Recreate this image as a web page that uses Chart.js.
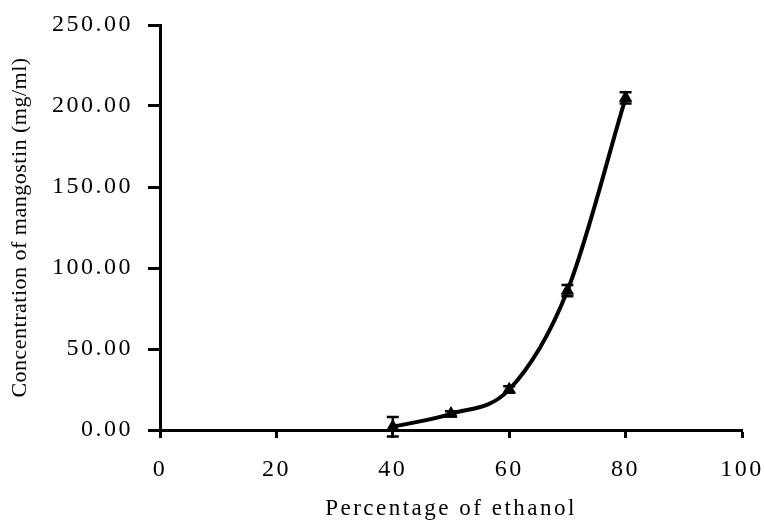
<!DOCTYPE html>
<html>
<head>
<meta charset="utf-8">
<script src="https://cdn.jsdelivr.net/npm/chart.js@4/dist/chart.umd.min.js"></script>
<style>
  body { margin: 0; background: #fff; }
  canvas { display: block; }
</style>
</head>
<body>
<canvas id="ethanol_chart" width="764" height="524"></canvas>
<script>
// ethanol percentage vs mangostin concentration (mean +/- sd)
var ethanol = [40, 50, 60, 70, 80];
var concentration = [2, 10, 25, 86, 205];
var sd = [6, 1.5, 2, 3.5, 3.5];

var xTicks = [0, 20, 40, 60, 80, 100];
var yTicks = [0, 50, 100, 150, 200, 250];

var INK = '#000';
var FONT = 'Liberation Serif, Times New Roman, serif';

var points = ethanol.map(function (x, i) {
    return { x: x, y: concentration[i] };
});

// vertical error bars with caps, placed through the scales
var errorBars = {
    id: 'errorBars',
    afterDatasetsDraw: function (chart) {
        var ctx = chart.ctx;
        var xs = chart.scales.x, ys = chart.scales.y;
        ctx.save();
        ctx.strokeStyle = INK;
        ctx.lineWidth = 2.5;
        for (var i = 0; i < ethanol.length; i++) {
            var px = xs.getPixelForValue(ethanol[i]);
            var top = ys.getPixelForValue(concentration[i] + sd[i]);
            var bottom = ys.getPixelForValue(concentration[i] - sd[i]);
            ctx.beginPath();
            ctx.moveTo(px, top);
            ctx.lineTo(px, bottom);
            ctx.moveTo(px - 6, top);
            ctx.lineTo(px + 6, top);
            ctx.moveTo(px - 6, bottom);
            ctx.lineTo(px + 6, bottom);
            ctx.stroke();
        }
        ctx.restore();
    }
};

// spaced-out lettering for the axis text
var lettering = {
    id: 'lettering',
    beforeDraw: function (chart) {
        chart.ctx.letterSpacing = '2.5px';
    }
};

var ctx = document.getElementById('ethanol_chart').getContext('2d');

var chart = new Chart(ctx, {
    type: 'scatter',
    data: {
        datasets: [{
            data: points,
            showLine: true,
            cubicInterpolationMode: 'monotone',
            borderColor: INK,
            borderWidth: 4,
            backgroundColor: INK,
            pointStyle: 'triangle',
            pointRadius: 7,
            pointBorderWidth: 1,
            pointBackgroundColor: INK,
            pointBorderColor: INK
        }]
    },
    options: {
        responsive: false,
        animation: false,
        layout: {
            padding: { top: 25, right: 22, left: 0, bottom: 0 }
        },
        plugins: {
            legend: { display: false },
            tooltip: { enabled: false },
            title: { display: false }
        },
        scales: {
            x: {
                type: 'linear',
                min: 0,
                max: 100,
                afterBuildTicks: function (scale) {
                    scale.ticks = xTicks.map(function (v) { return { value: v }; });
                },
                afterFit: function (scale) {
                    scale.height = 94;
                    scale.paddingLeft = 0;
                    scale.paddingRight = 0;
                },
                border: { display: true, color: INK, width: 3 },
                grid: {
                    drawOnChartArea: false,
                    drawTicks: true,
                    tickLength: 8,
                    tickWidth: 3,
                    tickColor: INK
                },
                ticks: {
                    color: INK,
                    padding: 17,
                    maxRotation: 0,
                    font: { family: FONT, size: 24 }
                },
                title: {
                    display: true,
                    text: 'Percentage of ethanol',
                    color: INK,
                    padding: { top: 0, bottom: 1 },
                    font: { family: FONT, size: 23 }
                }
            },
            y: {
                type: 'linear',
                min: 0,
                max: 250,
                afterBuildTicks: function (scale) {
                    scale.ticks = yTicks.map(function (v) { return { value: v }; });
                },
                afterFit: function (scale) {
                    scale.width = 160;
                    scale.paddingTop = 0;
                    scale.paddingBottom = 0;
                    // the vertical title is set tighter than the tick numbers
                    if (!scale._tightTitle) {
                        var drawTitle = scale.drawTitle;
                        scale.drawTitle = function () {
                            var c = this.ctx;
                            var prev = c.letterSpacing;
                            c.letterSpacing = '0.5px';
                            drawTitle.apply(this, arguments);
                            c.letterSpacing = prev;
                        };
                        scale._tightTitle = true;
                    }
                },
                border: { display: true, color: INK, width: 3 },
                grid: {
                    drawOnChartArea: false,
                    drawTicks: true,
                    tickLength: 12,
                    tickWidth: 3,
                    tickColor: INK
                },
                ticks: {
                    color: INK,
                    padding: 15,
                    font: { family: FONT, size: 24 },
                    callback: function (value) {
                        return Number(value).toFixed(2);
                    }
                },
                title: {
                    display: true,
                    text: 'Concentration of mangostin (mg/ml)',
                    color: INK,
                    padding: { top: 7, bottom: 0 },
                    font: { family: FONT, size: 22 }
                }
            }
        }
    },
    plugins: [lettering, errorBars]
});
</script>
</body>
</html>
